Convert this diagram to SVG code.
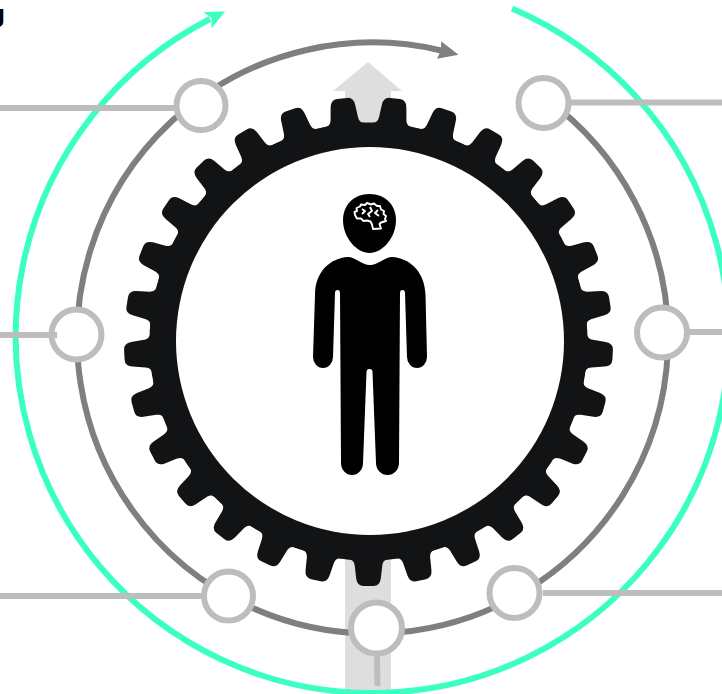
<svg xmlns="http://www.w3.org/2000/svg" xmlns:xlink="http://www.w3.org/1999/xlink" width="722" height="694" viewBox="0 0 722 694">
<style>
.gear{fill:#121315}
.link{stroke:#bdbdbd;stroke-width:6;fill:none}
.node{fill:#fff;stroke:#bdbdbd;stroke-width:6}
.big{fill:none;stroke:#3cffc4;stroke-width:6}
.mid{fill:none;stroke:#7f7f7f;stroke-width:6}
</style>
<defs>
<marker id="ag" markerUnits="userSpaceOnUse" markerWidth="24" markerHeight="22" refX="3" refY="9" orient="auto"><path d="M0,0L20,9L0,18L5,9Z" fill="#3cffc4"/></marker>
<marker id="am" markerUnits="userSpaceOnUse" markerWidth="24" markerHeight="22" refX="2" refY="9" orient="auto"><path d="M0,0L20,9L0,18L2,9Z" fill="#7f7f7f"/></marker>
<path id="t" d="M-25,-217L-21,-217.5C-16,-218 -14.5,-220 -13.8,-224L-12.3,-237Q-11.3,-244.5 -5,-244.5L5,-244.5Q11.3,-244.5 12.3,-237L13.8,-224C14.5,-220 16,-218 21,-217.5L25,-217L25,-205L-25,-205Z"/>
</defs>
<rect width="722" height="694" fill="#fff"/>
<text x="-9.5" y="27" font-family="Liberation Sans, sans-serif" font-size="26" font-weight="bold" fill="#000">J</text>
<polygon id="up-arrow" points="368,62 402,91 391,91 391,690 345,690 345,91 333,91" fill="#dedede"/>
<g id="connectors">
<path class="big" d="M512,8.5A356.5,356.5 0 1 1 210,19" marker-end="url(#ag)"/>
<path class="mid" d="M546.4,99A295.5,295.5 0 1 1 441,50.5" marker-end="url(#am)"/>
<path class="link" d="M0,108H178M0,335H57M0,596H205M543,102.5H722M689,332H722M543,593H722M377,656L377.5,686"/>
</g>
<g id="gear">
<circle class="gear" cx="368.5" cy="341.5" r="219"/>
<g class="gear" transform="translate(368.5 341.5)">
<use xlink:href="#t" transform="rotate(180)"/>
<use xlink:href="#t" transform="rotate(192.414)"/>
<use xlink:href="#t" transform="rotate(204.828)"/>
<use xlink:href="#t" transform="rotate(217.241)"/>
<use xlink:href="#t" transform="rotate(229.655)"/>
<use xlink:href="#t" transform="rotate(242.069)"/>
<use xlink:href="#t" transform="rotate(254.483)"/>
<use xlink:href="#t" transform="rotate(266.897)"/>
<use xlink:href="#t" transform="rotate(279.310)"/>
<use xlink:href="#t" transform="rotate(291.724)"/>
<use xlink:href="#t" transform="rotate(304.138)"/>
<use xlink:href="#t" transform="rotate(316.552)"/>
<use xlink:href="#t" transform="rotate(328.966)"/>
<use xlink:href="#t" transform="rotate(341.379)"/>
<use xlink:href="#t" transform="rotate(353.793)"/>
<use xlink:href="#t" transform="rotate(6.207)"/>
<use xlink:href="#t" transform="rotate(18.621)"/>
<use xlink:href="#t" transform="rotate(31.034)"/>
<use xlink:href="#t" transform="rotate(43.448)"/>
<use xlink:href="#t" transform="rotate(55.862)"/>
<use xlink:href="#t" transform="rotate(68.276)"/>
<use xlink:href="#t" transform="rotate(80.690)"/>
<use xlink:href="#t" transform="rotate(93.103)"/>
<use xlink:href="#t" transform="rotate(105.517)"/>
<use xlink:href="#t" transform="rotate(117.931)"/>
<use xlink:href="#t" transform="rotate(130.345)"/>
<use xlink:href="#t" transform="rotate(142.759)"/>
<use xlink:href="#t" transform="rotate(155.172)"/>
<use xlink:href="#t" transform="rotate(167.586)"/>
</g>
<circle cx="370" cy="341" r="194" fill="#fff"/>
</g>
<g id="person">
<path fill="#000" d="M369.5,194C386,194 396,206 396,220C396,238 382,253 369.5,253C357,253 343,238 343,220C343,206 353,194 369.5,194Z"/>
<path fill="none" stroke="#fff" stroke-width="1.9" stroke-linejoin="round" d="M355,215L354.5,212L357,211L356.5,208L360,206.5L361,204.5L365,205L367,203L371,204.5L374,203.5L377,206L380,206L381,209.5L384,211L383.5,214L386,216L385,219L386,221L381,222.5L379.5,224L381,228.5L373,229L372,224.5L370.5,221.5L367,220.5L363.5,221L361,218.5L357,218.5ZM362,209L365,211L362,214M370,207L372,211L368,214L370,217M378,210L375,213L379,216"/>
<path fill="#000" d="M348,257C355,257 362,265 370,265C378,265 385,257 392,257C410,258 425,272 425.5,295L427,357A10,11 0 0 1 407,357L405,293A2.5,3 0 0 0 400,293L399,463A11.5,12 0 0 1 376,463L372.5,372A3,3 0 0 0 366.5,372L363,463A11,12 0 0 1 341,463L340,293A2.5,3 0 0 0 335,293L333,357A10,11 0 0 1 313,357L315,295C315,272 330,258 348,257Z"/>
</g>
<g id="node-top-left"><circle class="node" cx="201" cy="105.5" r="24.5"/></g>
<g id="node-top-right"><circle class="node" cx="543.5" cy="103" r="25"/></g>
<g id="node-left"><circle class="node" cx="76.5" cy="334.5" r="25"/><path class="link" d="M48,335H57"/></g>
<g id="node-right"><circle class="node" cx="662" cy="332.5" r="25"/></g>
<g id="node-bottom-left"><circle class="node" cx="228.5" cy="596" r="24.5"/></g>
<g id="node-bottom-right"><circle class="node" cx="514.5" cy="593" r="25"/></g>
<g id="node-bottom"><circle class="node" cx="376.5" cy="628" r="25.5"/></g>
</svg>
